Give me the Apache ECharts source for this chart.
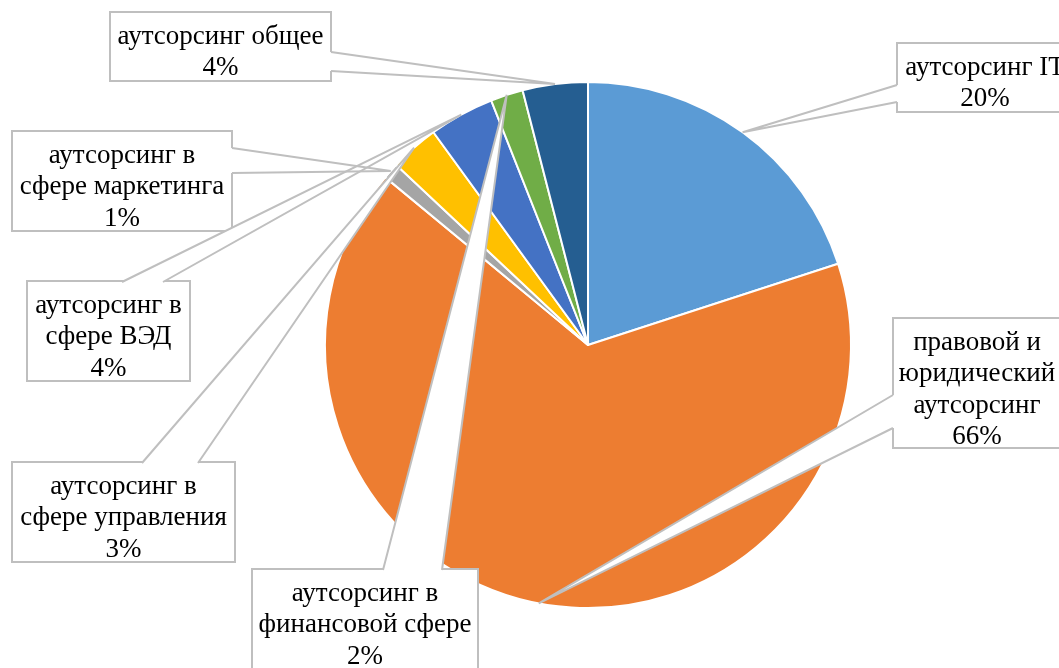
<!DOCTYPE html>
<html>
<head>
<meta charset="utf-8">
<script src="https://cdn.jsdelivr.net/npm/echarts@6/dist/echarts.min.js"></script>
<style>
  html, body { margin: 0; padding: 0; background: #fff; }
  #chart { width: 1059px; height: 668px; }
</style>
</head>
<body>
<div id="chart"></div>
<script>
// Structure of the outsourcing market, %
const categories = [
  'аутсорсинг IT',
  'правовой и\nюридический\nаутсорсинг',
  'аутсорсинг в\nсфере маркетинга',
  'аутсорсинг в\nсфере управления',
  'аутсорсинг в\nсфере ВЭД',
  'аутсорсинг в\nфинансовой сфере',
  'аутсорсинг общее'
];
const shares = [20, 66, 1, 3, 4, 2, 4];
const palette = ['#5B9BD5', '#ED7D31', '#A5A5A5', '#FFC000', '#4472C4', '#70AD47', '#255E91'];

// Callout boxes: centre x, top y, outer width and height, the side the pointer
// leaves from and the span of the pointer base along that side.
const callouts = [
  { cx: 985,   top: 44,  w: 176, h: 69,  side: 'left',  from: 85,  to: 102 },
  { cx: 977,   top: 319, w: 168, h: 130, side: 'left',  from: 395, to: 428 },
  { cx: 122,   top: 132, w: 220, h: 100, side: 'right', from: 148, to: 173 },
  { cx: 123.5, top: 463, w: 223, h: 100, side: 'top',   from: 142, to: 198 },
  { cx: 108.5, top: 282, w: 163, h: 100, side: 'top',   from: 122, to: 163 },
  { cx: 365,   top: 570, w: 226, h: 100, side: 'top',   from: 383, to: 442 },
  { cx: 220.5, top: 13,  w: 221, h: 69,  side: 'right', from: 52,  to: 71 }
];

const BORDER = '#BFBFBF';
const PAD = [8, 4, 0, 4];
const chart = echarts.init(document.getElementById('chart'), null, { renderer: 'canvas' });

const option = {
  animation: false,
  backgroundColor: '#fff',
  color: palette,
  series: [{
    type: 'pie',
    center: [588, 345],
    radius: 263,
    startAngle: 90,
    clockwise: true,
    avoidLabelOverlap: false,
    percentPrecision: 0,
    itemStyle: { borderColor: '#fff', borderWidth: 2 },
    label: {
      show: true,
      position: 'inside',
      formatter: '{b}\n{d}%',
      color: '#000',
      fontFamily: '"Liberation Serif", "Times New Roman", serif',
      fontSize: 27,
      lineHeight: 31.5,
      backgroundColor: '#fff',
      borderColor: BORDER,
      borderWidth: 2,
      padding: PAD,
      overflow: 'none',
      align: 'center'
    },
    labelLine: { show: false },
    emphasis: { disabled: true },
    labelLayout: function (p) {
      const c = callouts[p.dataIndex];
      return {
        x: c.cx, y: c.top, align: 'center', verticalAlign: 'top',
        width: c.w - PAD[1] - PAD[3] - 2,
        height: c.h - PAD[0] - PAD[2] - 2
      };
    },
    data: categories.map((name, i) => ({ name: name, value: shares[i] }))
  }]
};

chart.setOption(option);

// Pointer wedges of the callouts, aimed at the middle of each slice's arc
function wedge(c, tip) {
  const left = c.cx - c.w / 2, right = c.cx + c.w / 2;
  let A, B, inA, inB;
  if (c.side === 'left') {
    A = [left, c.from]; B = [left, c.to]; inA = [left + 4, c.from]; inB = [left + 4, c.to];
  } else if (c.side === 'right') {
    A = [right, c.from]; B = [right, c.to]; inA = [right - 4, c.from]; inB = [right - 4, c.to];
  } else {
    A = [c.from, c.top]; B = [c.to, c.top]; inA = [c.from, c.top + 4]; inB = [c.to, c.top + 4];
  }
  return [
    { type: 'polygon', z: 100, silent: true, shape: { points: [A, tip, B, inB, inA] }, style: { fill: '#fff', stroke: null } },
    { type: 'polyline', z: 101, silent: true, shape: { points: [A, tip, B] }, style: { stroke: BORDER, lineWidth: 2, fill: null } }
  ];
}

const pieData = chart.getModel().getSeriesByIndex(0).getData();
const elements = [];
callouts.forEach((c, i) => {
  const L = pieData.getItemLayout(i);
  const mid = (L.startAngle + L.endAngle) / 2;
  const tip = [L.cx + L.r * Math.cos(mid), L.cy + L.r * Math.sin(mid)];
  elements.push(...wedge(c, tip));
});
chart.setOption({ graphic: { elements: elements } });
</script>
</body>
</html>
